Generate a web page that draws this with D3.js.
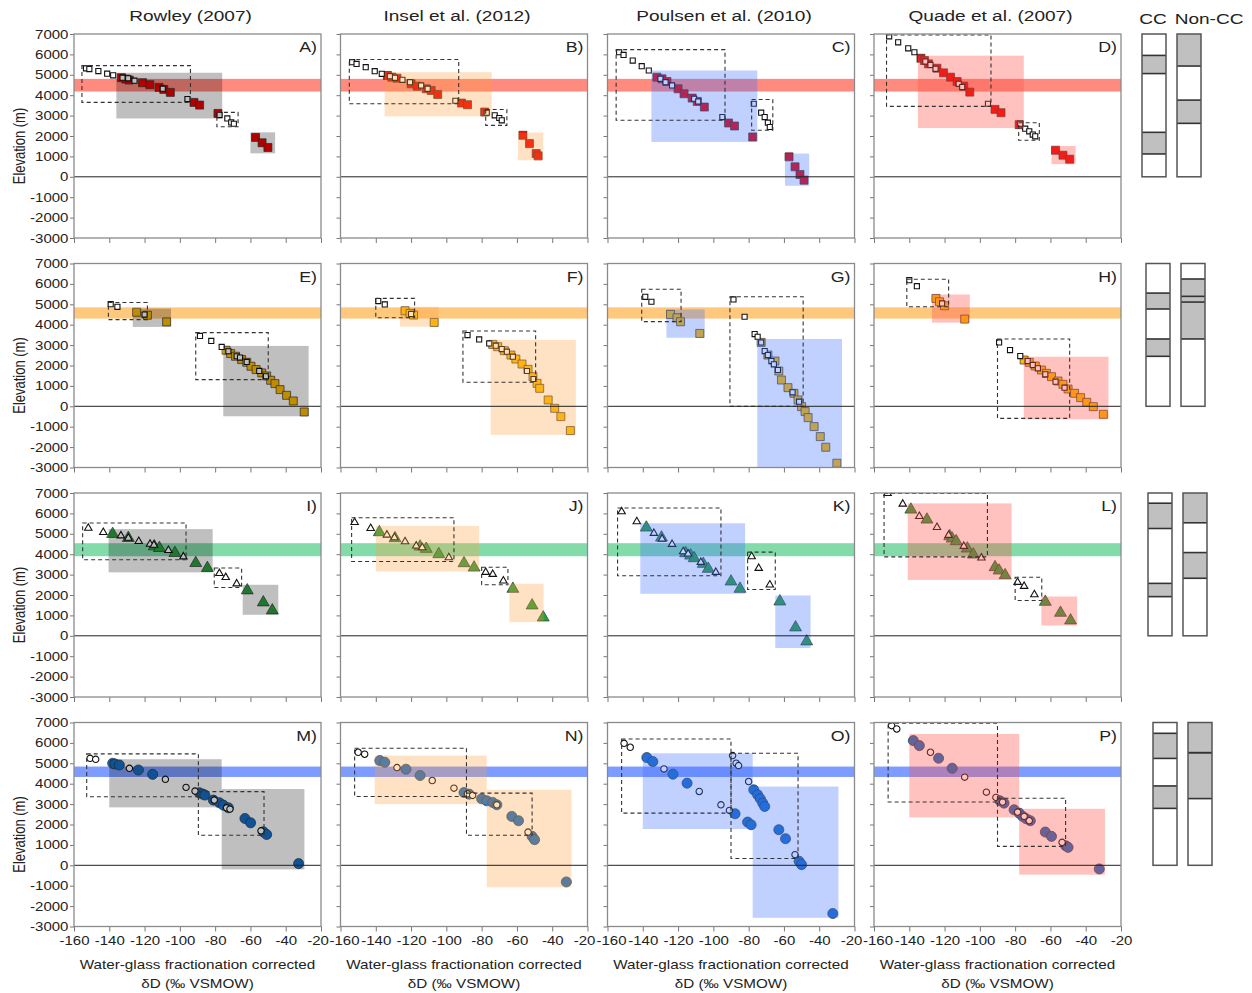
<!DOCTYPE html>
<html>
<head>
<meta charset="utf-8">
<script src="https://cdn.jsdelivr.net/npm/d3@7"></script>
<style>
  body { margin: 0; background: #fff; }
  svg text { font-family: "Liberation Sans", Arial, sans-serif; fill: #222; }
</style>
</head>
<body>
<svg id="chart" width="1252" height="993"></svg>
<script>
// ---- Labels and ticks ----
const sources = ["Rowley (2007)", "Insel et al. (2012)", "Poulsen et al. (2010)", "Quade et al. (2007)"];
const panelLetters = [["A", "B", "C", "D"], ["E", "F", "G", "H"], ["I", "J", "K", "L"], ["M", "N", "O", "P"]];
const xTicks = [-160, -140, -120, -100, -80, -60, -40, -20];
const yTicks = [-3000, -2000, -1000, 0, 1000, 2000, 3000, 4000, 5000, 6000, 7000];
const xTitleLines = ["Water-glass fractionation corrected", "δD (‰ VSMOW)"];
const yTitle = "Elevation (m)";
const barTitles = ["CC", "Non-CC"];

// Horizontal reference band (elevation range, m) per row
const bandRanges = [[4180, 4800], [4300, 4850], [3900, 4540], [4330, 4840]];

// ---- Row 1 (squares) ----
const filledA = [[-133.1,4857],[-130.6,4792],[-128.7,4743],[-121.2,4612],[-117.0,4514],[-111.8,4383],[-109.1,4285],[-105.4,4138],[-92.0,3647],[-88.8,3516],[-78.4,3107],[-57.1,1930],[-53.4,1668],[-50.1,1439]];
const openA = [[-153.2,5315],[-151.3,5283],[-146.2,5184],[-141.2,5054],[-137.8,4972],[-132.5,4857],[-129.3,4825],[-125.7,4710],[-109.7,4318],[-95.7,3811],[-77.5,3026],[-73.1,2862],[-70.9,2666],[-69.4,2600]];
const shadeA = [[-136,-76,2860,5100],[-60,-46,1150,2180]];
const dashA = [[-155.5,-94,3650,5450],[-79,-67,2450,3160]];

const filledB = [[-133.4,4965],[-130.9,4884],[-128.0,4835],[-120.0,4558],[-116.6,4444],[-111.4,4314],[-108.6,4233],[-104.9,4037],[-91.4,3614],[-88.0,3533],[-78.3,3175],[-56.6,2035],[-52.9,1628],[-49.1,1140],[-48.0,1026]];
const openB = [[-153.4,5617],[-150.9,5535],[-145.7,5372],[-140.6,5177],[-136.6,5047],[-132.0,4933],[-129.1,4851],[-124.9,4754],[-120.6,4640],[-114.3,4477],[-110.6,4314],[-94.9,3728],[-77.1,3142],[-72.6,3012],[-70.0,2882],[-68.6,2768]];
const shadeB = [[-135,-74.3,2960,5130],[-59.4,-45.1,810,2170]];
const dashB = [[-155,-93,3580,5750],[-77.7,-65.7,2520,3300]];

const filledC = [[-132.0,4884],[-129.1,4803],[-126.3,4672],[-120.0,4314],[-116.6,4070],[-112.0,3858],[-109.1,3696],[-105.1,3419],[-91.4,2637],[-88.0,2491],[-77.7,1954],[-57.1,977],[-53.7,488],[-50.9,114],[-48.6,-163]];
const openC = [[-153.4,6105],[-150.9,5975],[-145.7,5698],[-140.6,5421],[-136.6,5210],[-130.0,4803],[-127.1,4640],[-123.4,4477],[-110.9,3826],[-108.6,3696],[-94.9,2930],[-77.1,3582],[-72.9,3142],[-70.9,2930],[-69.1,2654],[-68.0,2442]];
const shadeC = [[-135.1,-75.1,1710,5210],[-59.4,-45.7,-440,1140]];
const dashC = [[-155.1,-93.4,2770,6235],[-78.3,-66.3,2280,3790]];

const filledD = [[-133.4,5812],[-131.4,5698],[-129.1,5535],[-124.3,5324],[-120.6,5096],[-116.6,4884],[-112.9,4672],[-109.1,4444],[-105.7,4151],[-91.4,3305],[-88.0,3142],[-77.7,2556],[-57.1,1302],[-52.9,1058],[-49.1,863]];
const openD = [[-151.4,6886],[-146.3,6593],[-140.6,6300],[-137.1,6105],[-130.9,5649],[-128.0,5486],[-125.1,5291],[-112.0,4558],[-110.0,4396],[-95.4,3582],[-77.1,2605],[-74.3,2361],[-72.0,2230],[-70.0,2068],[-68.6,1986]];
const shadeD = [[-135.1,-75.1,2390,5940],[-59.4,-45.7,620,1510]];
const dashD = [[-152.9,-93.7,3450,6950],[-78,-66.3,1790,2650]];

// ---- Row 2 (squares) ----
const filledE = [[-124.5,4612],[-118.4,4465],[-107.5,4138],[-73.8,2748],[-71.2,2584],[-68.4,2453],[-65.0,2290],[-62.1,2159],[-59.7,1963],[-56.8,1799],[-53.6,1636],[-50.8,1488],[-48.5,1276],[-46.1,1112],[-43.2,818],[-39.5,540],[-35.7,262],[-29.5,-278]];
const openE = [[-139.2,5005],[-135.4,4874],[-120.0,4498],[-88.6,3451],[-82.2,3206],[-76.3,2911],[-72.5,2699],[-67.8,2453],[-65.9,2388],[-62.1,2175],[-55.0,1734],[-51.2,1472]];
const shadeE = [[-126.7,-105,3890,4790],[-75.4,-27,-490,2960]];
const dashE = [[-140.5,-118.4,4250,5090],[-91,-49.9,1310,3610]];

const filledF = [[-123.4,4683],[-120.6,4553],[-118.6,4471],[-106.9,4112],[-73.7,3035],[-70.9,2921],[-67.1,2725],[-63.4,2513],[-60.6,2317],[-57.1,2072],[-53.7,1811],[-50.9,1452],[-48.6,1126],[-47.1,881],[-42.3,310],[-38.6,-98],[-35.1,-506],[-29.7,-1191]];
const openF = [[-138.6,5156],[-134.9,4993],[-120.0,4520],[-88.0,3492],[-81.4,3280],[-75.7,3084],[-72.0,2970],[-68.6,2807],[-65.7,2676],[-62.3,2431],[-54.3,1730],[-50.6,1338]];
const shadeF = [[-126.3,-104.3,3900,4880],[-74.9,-26.6,-1400,3250]];
const dashF = [[-140,-118,4340,5290],[-90.6,-49.4,1180,3690]];

const filledG = [[-124.3,4504],[-120.6,4340],[-118.6,4145],[-107.7,3573],[-72.9,3133],[-69.1,2513],[-65.1,2219],[-62.9,1730],[-61.4,1289],[-57.7,914],[-54.3,636],[-52.0,310],[-50.0,-16],[-48.0,-261],[-46.3,-555],[-42.9,-995],[-39.4,-1485],[-36.3,-2007],[-30.0,-2790]];
const openG = [[-138.6,5368],[-135.1,5124],[-88.6,5238],[-82.3,4389],[-76.6,3541],[-74.9,3410],[-72.9,3133],[-70.9,2709],[-69.1,2513],[-67.1,2219],[-65.7,2056],[-63.4,1779],[-55.1,685],[-51.4,228]];
const shadeG = [[-126.6,-104.9,3360,4750],[-75.1,-27.1,-3000,3300]];
const dashG = [[-140.6,-118.3,4150,5740],[-90.6,-49.1,0,5370]];

const filledH = [[-124.9,5287],[-122.9,5124],[-120.0,4928],[-108.6,4275],[-74.9,2268],[-72.0,2154],[-68.6,1974],[-65.1,1779],[-62.3,1615],[-59.4,1452],[-55.7,1240],[-52.9,1077],[-50.0,848],[-46.3,636],[-42.9,424],[-39.4,196],[-35.7,-16],[-30.0,-392]];
const openH = [[-140.0,6184],[-135.7,5890],[-121.4,5042],[-89.1,3133],[-82.9,2758],[-77.1,2464],[-72.9,2219],[-70.0,2023],[-67.1,1860],[-62.9,1566],[-57.1,1207],[-52.0,914]];
const shadeH = [[-127.1,-105.7,4100,5480],[-75.1,-27.1,-640,2430]];
const dashH = [[-141.4,-117.7,4880,6230],[-90,-49.1,-590,3300]];

// ---- Row 3 (triangles) ----
const filledI = [[-138.1,4988],[-129.2,4792],[-114.5,4383],[-111.6,4301],[-102.8,4056],[-91.0,3565],[-84.4,3320],[-61.8,2224],[-52.7,1636],[-47.6,1243]];
const openI = [[-151.9,5283],[-143.4,5070],[-133.4,4907],[-129.2,4792],[-123.3,4628],[-116.9,4498],[-114.7,4449],[-106.5,4187],[-98.0,3876],[-77.6,3058],[-74.0,2862],[-67.8,2551]];
const shadeI = [[-140.4,-81.4,3110,5230],[-64.4,-44.2,1030,2500]];
const dashI = [[-155.1,-96.5,3730,5530],[-80.5,-65,2370,3320]];

const filledJ = [[-138.0,5075],[-129.1,4781],[-114.9,4373],[-111.4,4259],[-104.3,3998],[-90.0,3557],[-84.3,3345],[-62.3,2301],[-51.4,1485],[-45.1,897]];
const openJ = [[-152.0,5564],[-142.9,5270],[-133.7,4944],[-129.4,4814],[-123.4,4618],[-117.1,4406],[-113.7,4324],[-98.6,3834],[-77.7,3117],[-73.7,3019],[-67.7,2692]];
const shadeJ = [[-140,-81.4,3150,5385],[-64.3,-44.9,670,2550]];
const dashJ = [[-153.7,-95.7,3640,5790],[-80,-65.1,2500,3360]];

const filledK = [[-138.0,5303],[-129.4,4814],[-115.7,4047],[-112.9,3932],[-110.9,3802],[-105.7,3524],[-102.9,3280],[-90.0,2660],[-84.9,2301],[-62.3,1681],[-53.4,408],[-47.1,-277]];
const openK = [[-152.0,6086],[-143.4,5597],[-133.7,5026],[-129.1,4748],[-123.4,4487],[-117.1,4128],[-114.3,4014],[-107.1,3606],[-98.6,3117],[-78.3,3883],[-74.3,3312],[-68.0,2497]];
const shadeK = [[-141.4,-82,2060,5515],[-64.9,-44.9,-600,1975]];
const dashK = [[-154.3,-95.7,2940,6265],[-80.6,-64.9,2270,4100]];

const filledL = [[-139.1,6184],[-130.0,5695],[-117.1,4879],[-115.7,4765],[-113.4,4634],[-107.1,4275],[-103.7,3981],[-91.4,3361],[-89.1,3198],[-85.7,2970],[-62.9,1664],[-54.3,1126],[-48.6,751]];
const openL = [[-152.3,6984],[-143.7,6462],[-134.3,5858],[-124.3,5319],[-117.7,4928],[-109.1,4389],[-99.1,3818],[-78.6,2627],[-74.9,2431],[-69.1,2023]];
const shadeL = [[-140.9,-82,2740,6490],[-65.1,-44.9,505,1925]];
const dashL = [[-154.3,-95.7,3870,6980],[-80,-64.9,1730,2870]];

// ---- Row 4 (circles) ----
const filledM = [[-138.1,5000],[-136.8,4967],[-134.3,4918],[-123.5,4672],[-115.4,4459],[-89.0,3557],[-87.1,3492],[-85.8,3443],[-81.0,3197],[-77.6,3066],[-75.4,2951],[-72.5,2820],[-63.1,2295],[-59.9,2082],[-52.7,1639],[-50.8,1508],[-32.7,82]];
const openM = [[-150.9,5246],[-147.7,5197],[-128.6,4754],[-108.2,4213],[-96.5,3820],[-91.4,3639],[-80.5,3197],[-73.5,2820],[-71.6,2754],[-54.0,1689]];
const shadeM = [[-140,-76.3,2840,5200],[-76.3,-29.4,-200,3740]];
const dashM = [[-152.8,-89.5,3360,5460],[-89.5,-52.3,1475,3610]];

const filledN = [[-137.7,5134],[-134.9,5052],[-122.9,4710],[-114.9,4400],[-90.0,3569],[-87.1,3488],[-80.0,3260],[-77.1,3162],[-73.7,3080],[-71.4,2966],[-62.9,2396],[-59.1,2184],[-51.4,1418],[-50.0,1255],[-32.0,-815]];
const openN = [[-150.0,5541],[-146.3,5444],[-128.0,4792],[-108.0,4156],[-95.7,3781],[-88.0,3504],[-85.1,3423],[-71.4,2966],[-53.7,1630]];
const shadeN = [[-140.6,-77.1,3000,5380],[-77.1,-29.1,-1080,3700]];
const dashN = [[-152,-88.6,3370,5740],[-88.6,-51.4,1470,3540]];

const filledO = [[-137.7,5281],[-134.3,5085],[-122.9,4466],[-114.9,4026],[-87.7,2526],[-77.1,3700],[-74.9,3455],[-73.4,3260],[-72.0,3048],[-70.9,2885],[-80.6,2119],[-78.6,1988],[-62.9,1744],[-59.1,1304],[-51.4,196],[-50.0,33],[-32.3,-2363]];
const openO = [[-150.6,5981],[-147.1,5786],[-128.0,4726],[-108.0,3618],[-95.7,2966],[-90.9,2689],[-89.1,5378],[-87.1,5003],[-85.7,4889],[-80.0,4107],[-53.7,522]];
const shadeO = [[-140,-77.7,1780,5490],[-77.7,-29.1,-2575,3860]];
const dashO = [[-152,-90,2560,6190],[-90,-52,330,5490]];

const filledP = [[-137.7,6112],[-134.3,5867],[-123.4,5248],[-115.7,4759],[-88.6,3162],[-86.3,3048],[-80.6,2722],[-77.7,2559],[-75.7,2396],[-73.7,2282],[-71.4,2184],[-62.9,1630],[-59.4,1418],[-51.4,962],[-50.0,880],[-32.3,-179]];
const openP = [[-150.0,6845],[-147.1,6682],[-128.0,5541],[-108.6,4319],[-96.3,3586],[-90.9,3325],[-87.1,3097],[-78.6,2608],[-74.9,2396],[-72.0,2184],[-53.4,1125]];
const shadeP = [[-140,-77.7,2350,6440],[-77.7,-29.1,-460,2770]];
const dashP = [[-152,-90,3100,6960],[-90,-51.4,930,3290]];

// ---- CC / Non-CC elevation bars: shaded ranges (m) per row ----
const ccSegments = [[[5060,5950],[1120,2180]], [[4770,5550],[2450,3300]], [[5260,6500],[1920,2570]], [[5240,6470],[2790,3890]]];
const nonccSegments = [[[5430,7000],[2620,3760]], [[5110,6240],[3300,5390]], [[5540,7000],[2820,4080]], [[5520,7000],[3270,5520]]];
const barRange = [0, 7000];

// ---- Assemble panels ----
const panelData = [
  [[filledA, openA, shadeA, dashA], [filledB, openB, shadeB, dashB], [filledC, openC, shadeC, dashC], [filledD, openD, shadeD, dashD]],
  [[filledE, openE, shadeE, dashE], [filledF, openF, shadeF, dashF], [filledG, openG, shadeG, dashG], [filledH, openH, shadeH, dashH]],
  [[filledI, openI, shadeI, dashI], [filledJ, openJ, shadeJ, dashJ], [filledK, openK, shadeK, dashK], [filledL, openL, shadeL, dashL]],
  [[filledM, openM, shadeM, dashM], [filledN, openN, shadeN, dashN], [filledO, openO, shadeO, dashO], [filledP, openP, shadeP, dashP]]
];

// ---- Layout & styles ----
const W = 247, H = 204;
const colX = [74, 340.5, 607.5, 874];
const rowY = [34, 263.5, 493, 722.5];
const SX = 1.27; // horizontal glyph stretch
const rowMarker = [
  { type: d3.symbolSquare, big: 64, small: 26, fill: "rgb(238,0,0)" },
  { type: d3.symbolSquare, big: 64, small: 26, fill: "rgb(255,188,0)" },
  { type: d3.symbolTriangle, big: 62, small: 24, fill: "rgb(40,160,62)" },
  { type: d3.symbolCircle, big: 80, small: 32, fill: "rgb(22,110,200)" }
];
const bandStyle = [
  { color: "rgb(255,60,40)", op: 0.6 },
  { color: "rgb(255,160,30)", op: 0.58 },
  { color: "rgb(30,190,100)", op: 0.55 },
  { color: "rgb(40,90,255)", op: 0.6 }
];
const shadeStyle = [
  { color: "#000", op: 0.25 },
  { color: "rgb(255,160,60)", op: 0.3 },
  { color: "rgb(64,112,255)", op: 0.33 },
  { color: "rgb(255,80,70)", op: 0.35 }
];
const ccX = [1142, 1146, 1148, 1153];
const nonccX = [1177, 1181, 1183, 1188];
const barW = 24;
const tickFont = 12.5, tickSX = 1.2;

const svg = d3.select("#chart");
const x = d3.scaleLinear().domain([-160, -20]).range([0, W]);
const y = d3.scaleLinear().domain([-3000, 7000]).range([H, 0]);
const fmt = d => String(d);

svg.append("defs").append("clipPath").attr("id", "plotClip")
  .append("rect").attr("x", 0).attr("y", 0).attr("width", W).attr("height", H);

function addText(parent, tx, ty, str, size, anchor = "middle", rot = 0) {
  return parent.append("text")
    .attr("transform", `translate(${tx},${ty}) scale(${SX},1)` + (rot ? ` rotate(${rot})` : ""))
    .attr("text-anchor", anchor)
    .attr("font-size", size)
    .text(str);
}

function placeRect(sel) {
  return sel.attr("x", d => x(d[0])).attr("width", d => x(d[1]) - x(d[0]))
    .attr("y", d => y(d[3])).attr("height", d => y(d[2]) - y(d[3]));
}

// Column titles
sources.forEach((s, c) => addText(svg, colX[c] + W / 2 - 7, 21, s, 15));

for (let r = 0; r < 4; r++) {
  // Y-axis title for the row
  addText(svg, 25, rowY[r] + H / 2 + 10, yTitle, 13, "middle", -90);

  for (let c = 0; c < 4; c++) {
    const [filled, open, shade, dash] = panelData[r][c];
    const g = svg.append("g").attr("transform", `translate(${colX[c]},${rowY[r]})`);
    const plot = g.append("g").attr("clip-path", "url(#plotClip)");

    // reference band
    const band = bandRanges[r];
    plot.append("rect").attr("x", 0).attr("width", W)
      .attr("y", y(band[1])).attr("height", y(band[0]) - y(band[1]))
      .attr("fill", bandStyle[r].color).attr("fill-opacity", bandStyle[r].op);

    const mk = rowMarker[r];
    const symBig = d3.symbol().type(mk.type).size(mk.big);
    const symSmall = d3.symbol().type(mk.type).size(mk.small);

    plot.selectAll("path.filled").data(filled).join("path")
      .attr("class", "filled")
      .attr("d", symBig)
      .attr("transform", d => `translate(${x(d[0])},${y(d[1])})`)
      .attr("fill", mk.fill).attr("stroke", "#333").attr("stroke-width", 0.7);

    plot.selectAll("path.open").data(open).join("path")
      .attr("class", "open")
      .attr("d", symSmall)
      .attr("transform", d => `translate(${x(d[0])},${y(d[1])})`)
      .attr("fill", "#fff").attr("stroke", "#111").attr("stroke-width", 1.1);

    // shaded ranges laid over the points
    plot.selectAll("rect.shade").data(shade).join("rect")
      .attr("class", "shade")
      .call(placeRect)
      .attr("fill", shadeStyle[c].color).attr("fill-opacity", shadeStyle[c].op);

    plot.selectAll("rect.dash").data(dash).join("rect")
      .attr("class", "dash")
      .call(placeRect)
      .attr("fill", "none").attr("stroke", "#333").attr("stroke-width", 1.1)
      .attr("stroke-dasharray", "4,3");

    // zero line
    g.append("line").attr("x1", 0).attr("x2", W).attr("y1", y(0)).attr("y2", y(0))
      .attr("stroke", "#222").attr("stroke-width", 1);

    // axes
    const ya = d3.axisLeft(y).tickValues(yTicks).tickSize(4).tickPadding(1).tickSizeOuter(0)
      .tickFormat(c > 0 ? "" : fmt);
    const yg = g.append("g").call(ya);
    const xa = d3.axisBottom(x).tickValues(xTicks).tickSize(5).tickPadding(5).tickSizeOuter(0)
      .tickFormat(r < 3 ? "" : fmt);
    const xg = g.append("g").attr("transform", `translate(0,${H})`).call(xa);
    [yg, xg].forEach(ax => {
      ax.attr("font-family", null);
      ax.select(".domain").remove();
      ax.selectAll(".tick line").attr("stroke", "#777");
      ax.selectAll(".tick text").attr("font-size", tickFont)
        .attr("fill", "#222").attr("transform", `scale(${tickSX},1)`);
    });
    yg.selectAll(".tick text").attr("x", -5.6 / tickSX);
    // nudge the end labels apart where neighbouring columns meet
    xg.selectAll(".tick text").attr("x", d => {
      if (d === -20 && c < 3) return -3.5 / tickSX;
      if (d === -160 && c > 0) return 3.5 / tickSX;
      return 0;
    });

    // frame
    g.append("rect").attr("x", 0).attr("y", 0).attr("width", W).attr("height", H)
      .attr("fill", "none").attr("stroke", "#8a8a8a").attr("stroke-width", 1.3);

    addText(g, W - 4, 18, panelLetters[r][c] + ")", 14, "end");
  }

  // CC / Non-CC bars
  const bg = svg.append("g").attr("transform", `translate(0,${rowY[r]})`);
  [[ccX[r], ccSegments[r]], [nonccX[r], nonccSegments[r]]].forEach(([bx, segs]) => {
    bg.append("rect").attr("x", bx).attr("width", barW)
      .attr("y", y(barRange[1])).attr("height", y(barRange[0]) - y(barRange[1]))
      .attr("fill", "#fff");
    bg.append("g").selectAll("rect").data(segs).join("rect")
      .attr("x", bx).attr("width", barW)
      .attr("y", d => y(d[1])).attr("height", d => y(d[0]) - y(d[1]))
      .attr("fill", "#c0c0c0");
    const edges = segs.flat().filter(v => v > barRange[0] && v < barRange[1]);
    bg.append("g").selectAll("line").data(edges).join("line")
      .attr("x1", bx).attr("x2", bx + barW)
      .attr("y1", d => y(d)).attr("y2", d => y(d))
      .attr("stroke", "#333").attr("stroke-width", 1.6);
    bg.append("rect").attr("x", bx).attr("width", barW)
      .attr("y", y(barRange[1])).attr("height", y(barRange[0]) - y(barRange[1]))
      .attr("fill", "none").attr("stroke", "#555").attr("stroke-width", 1.5);
  });
}

// bar headers
addText(svg, 1153, 24, barTitles[0], 15);
addText(svg, 1209, 24, barTitles[1], 15);

// x-axis titles under each column
for (let c = 0; c < 4; c++) {
  addText(svg, colX[c] + W / 2, 969, xTitleLines[0], 12);
  addText(svg, colX[c] + W / 2, 988, xTitleLines[1], 12);
}
</script>
</body>
</html>
